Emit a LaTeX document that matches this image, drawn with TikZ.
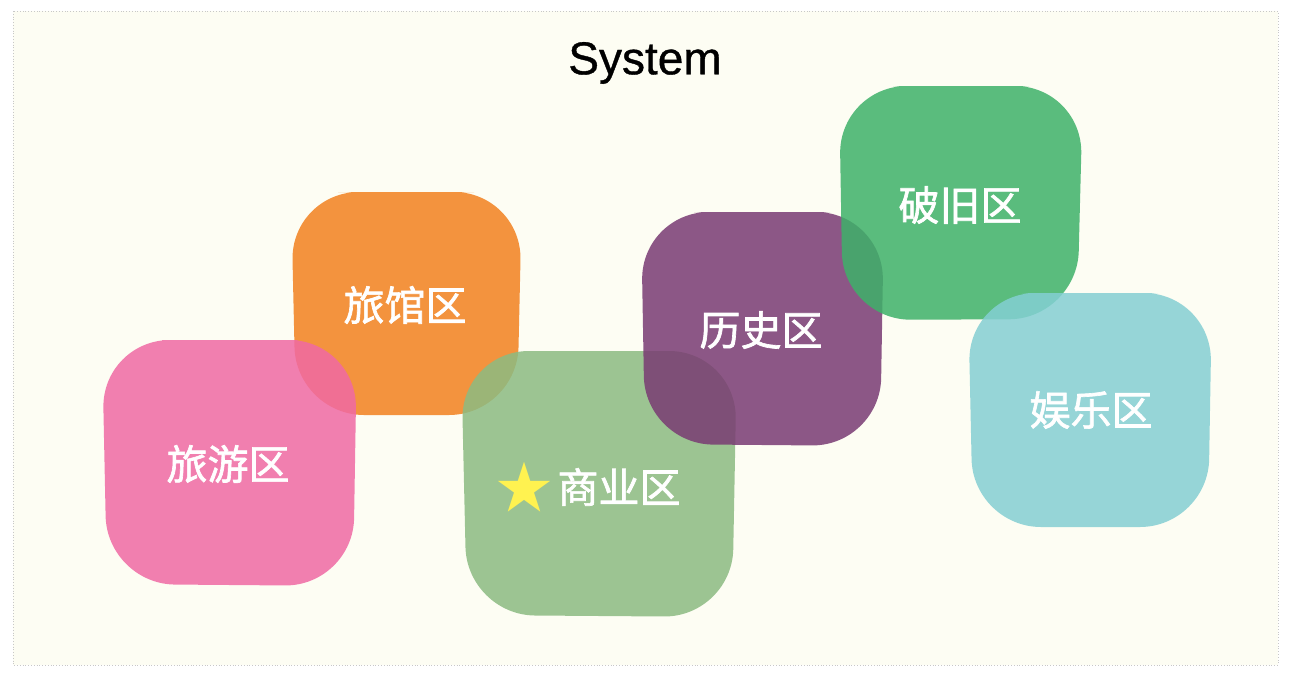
\documentclass[tikz,border=0pt]{standalone}
\usepackage{fontspec}
\setmainfont{Liberation Sans}
\newfontfamily\titlefont{Liberation Sans}[FakeBold=0.8]
\newfontfamily\cjk{Noto Sans CJK SC}[FakeBold=1.6]
\newfontfamily\cjkstar{Noto Sans CJK SC}
\definecolor{bgc}{RGB}{253,253,243}
\definecolor{framec}{RGB}{200,200,200}
\definecolor{pinkc}{RGB}{240,105,164}
\definecolor{orangec}{RGB}{242,129,31}
\definecolor{sagec}{RGB}{140,187,130}
\definecolor{purplec}{RGB}{121,59,115}
\definecolor{greenc}{RGB}{62,177,105}
\definecolor{tealc}{RGB}{132,207,211}
\definecolor{starc}{RGB}{255,242,80}
\tikzset{
  blob/.style={fill=#1, fill opacity=0.85, rounded corners=68pt},
  zone/.style={text=white, font=\cjk\fontsize{41}{41}\selectfont, inner sep=0pt},
  starmark/.style={text=starc, font=\cjkstar\fontsize{56}{56}\selectfont, inner sep=0pt},
  title/.style={text=black, font=\titlefont\fontsize{46}{46}\selectfont, inner sep=0pt}
}
\begin{document}
\begin{tikzpicture}[x=1pt,y=-1pt]
\useasboundingbox (0,0) rectangle (1290,672);
\fill[white] (0,0) rectangle (1290,672);
\fill[bgc] (13,11) rectangle (1278,665);
\draw[framec, dotted, line width=0.8pt] (13,11) rectangle (1278,665);
\node[title] (sys) at (645,63) {System};
% blobs
\fill[blob=orangec] (406,192) -- (522,192) -- (517,415) -- (296,415) -- (291,192) -- cycle;
\fill[blob=pinkc] (230,340) -- (357,340) -- (353,586) -- (107,584) -- (102,340) -- cycle;
\fill[blob=sagec] (600,351) -- (737,351) -- (732,617) -- (467,615) -- (461,351) -- cycle;
\fill[blob=purplec] (762,212) -- (884,212) -- (880,446) -- (645,444) -- (641,212) -- cycle;
\fill[blob=greenc] (961,86) -- (1083,86) -- (1077,319) -- (843,320) -- (839,86) -- cycle;
\fill[blob=tealc] (1090,293) -- (1212,293) -- (1208,527) -- (973,527) -- (968,293) -- cycle;
% labels
\node[zone] (lvyou) at (228,464) {旅游区};
\node[zone] (lvguan) at (405,305) {旅馆区};
\node[starmark] (star) at (524,487) {★};
\node[zone] (shangye) at (619,487) {商业区};
\node[zone] (lishi) at (761,330) {历史区};
\node[zone] (pojiu) at (960,205) {破旧区};
\node[zone] (yule) at (1091,410) {娱乐区};
\end{tikzpicture}
\end{document}
